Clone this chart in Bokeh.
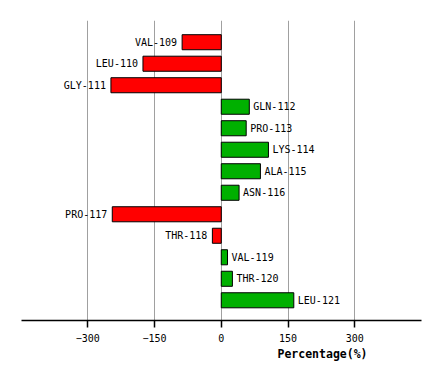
from bokeh.plotting import figure
from bokeh.models import ColumnDataSource, Range1d, FixedTicker, Title
from bokeh.core.properties import value
from bokeh.embed import file_html
from bokeh.resources import INLINE

residues = ["VAL-109", "LEU-110", "GLY-111", "GLN-112", "PRO-113", "LYS-114", "ALA-115",
            "ASN-116", "PRO-117", "THR-118", "VAL-119", "THR-120", "LEU-121"]
percent = [-88, -176, -248, 63, 56, 106, 88, 40, -245, -20, 14, 25, 163]
ticks = [-300, -150, 0, 150, 300]

idx = list(range(len(residues)))
colors = ["#ff0000" if v < 0 else "#00b000" for v in percent]
aligns = ["right" if v < 0 else "left" for v in percent]
offs = [-5 if v < 0 else 4 for v in percent]
src = ColumnDataSource(dict(y=idx, v=percent, name=residues, color=colors,
                            align=aligns, off=offs))

FONT = "DejaVu Sans Mono"
p = figure(width=441, height=381, output_backend="svg", toolbar_location=None,
           x_range=Range1d(-449, 450), y_range=Range1d(12.94, -1.01),
           min_border_left=21, min_border_right=20, min_border_top=20, min_border_bottom=61)
p.outline_line_color = None
p.background_fill_color = "white"
p.border_fill_color = "white"

p.hbar(y="y", left=0, right="v", height=0.7, source=src, fill_color="color",
       line_color="black", line_width=1)
p.text(x="v", y="y", text="name", source=src, x_offset="off", text_align="align",
       text_baseline="middle", text_font=value(FONT), text_font_size="10px",
       text_color="black")

p.yaxis.visible = False
p.ygrid.grid_line_color = None
p.xgrid.grid_line_color = "#a0a0a0"
p.xgrid.grid_line_width = 1
p.xaxis.ticker = FixedTicker(ticks=ticks)
p.xgrid.ticker = FixedTicker(ticks=ticks)
p.xaxis.minor_tick_line_color = None
p.xaxis.major_tick_in = 0
p.xaxis.major_tick_out = 7
p.xaxis.axis_line_color = "black"
p.xaxis.axis_line_width = 1.5
p.xaxis.major_tick_line_width = 1.5
p.xaxis.major_label_text_font = FONT
p.xaxis.major_label_text_font_size = "10px"
p.xaxis.major_label_text_color = "black"
p.xaxis.major_label_standoff = 6

p.add_layout(Title(text="Percentage(%)", align="left", offset=256,
                   text_font=FONT, text_font_size="11.5px", text_font_style="bold",
                   text_color="black", standoff=0), "below")

open("out.html", "w").write(file_html(p, INLINE))
